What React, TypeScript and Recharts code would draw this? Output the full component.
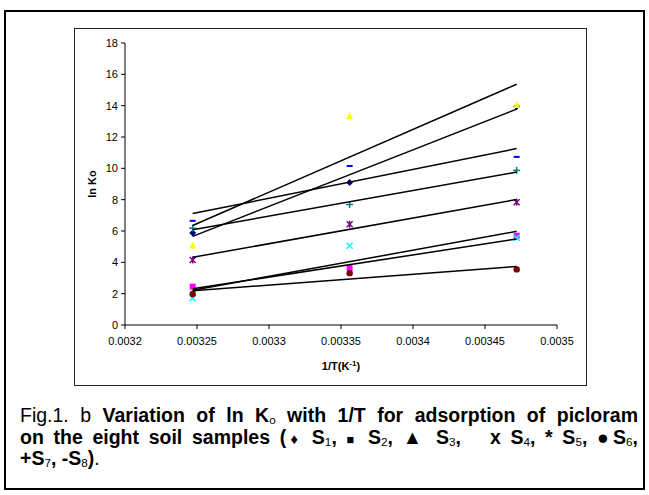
import { Label, Scatter, ScatterChart, XAxis, YAxis } from 'recharts'

// 1/T in K^-1 (308 K, 298 K, 288 K)
const INV_T = [0.003247, 0.003356, 0.003472]
const FIT_X = [0.003247, 0.003472]

// ln Ko, one array per soil sample
const S1 = [5.88, 9.1, 13.95]
const S2 = [2.45, 3.63, 5.7]
const S3 = [5.07, 13.33, 14.04]
const S4 = [1.71, 5.06, 5.56]
const S5 = [4.15, 6.43, 7.84]
const S6 = [1.98, 3.31, 3.55]
const S7 = [6.18, 7.69, 9.87]
const S8 = [6.65, 10.15, 10.73]

// trendline end values (left, right) as drawn in the figure
const S1_FIT = [5.66, 13.78]
const S2_FIT = [2.31, 5.49]
const S3_FIT = [6.35, 15.37]
const S4_FIT = [2.22, 5.98]
const S5_FIT = [4.32, 8.01]
const S6_FIT = [2.18, 3.74]
const S7_FIT = [6.08, 9.76]
const S8_FIT = [7.11, 11.26]

const X_TICKS = [0.0032, 0.00325, 0.0033, 0.00335, 0.0034, 0.00345, 0.0035]
const Y_TICKS = [0, 2, 4, 6, 8, 10, 12, 14, 16, 18]

type Kind = 'diamond' | 'square' | 'triangle' | 'x' | 'star' | 'circle' | 'plus' | 'dash'

const SERIES: { name: string; values: number[]; fit: number[]; color: string; kind: Kind }[] = [
  { name: 'S1', values: S1, fit: S1_FIT, color: '#000080', kind: 'diamond' },
  { name: 'S2', values: S2, fit: S2_FIT, color: '#ff00ff', kind: 'square' },
  { name: 'S3', values: S3, fit: S3_FIT, color: '#ffff00', kind: 'triangle' },
  { name: 'S4', values: S4, fit: S4_FIT, color: '#00ffff', kind: 'x' },
  { name: 'S5', values: S5, fit: S5_FIT, color: '#800080', kind: 'star' },
  { name: 'S6', values: S6, fit: S6_FIT, color: '#800000', kind: 'circle' },
  { name: 'S7', values: S7, fit: S7_FIT, color: '#008080', kind: 'plus' },
  { name: 'S8', values: S8, fit: S8_FIT, color: '#0000ff', kind: 'dash' },
]

const FONT = '"Liberation Sans", Arial, sans-serif'

function Marker({ cx, cy, kind, color }: { cx: number; cy: number; kind: Kind; color: string }) {
  if (cx == null || cy == null) return <g />
  switch (kind) {
    case 'diamond':
      return <polygon points={`${cx},${cy - 3.5} ${cx + 3.5},${cy} ${cx},${cy + 3.5} ${cx - 3.5},${cy}`} fill={color} />
    case 'square':
      return <rect x={cx - 3} y={cy - 3} width={6} height={6} fill={color} />
    case 'triangle':
      return <polygon points={`${cx},${cy - 4} ${cx + 3.5},${cy + 3} ${cx - 3.5},${cy + 3}`} fill={color} />
    case 'x':
      return (
        <g stroke={color} strokeWidth={1.5}>
          <line x1={cx - 3} y1={cy - 3} x2={cx + 3} y2={cy + 3} />
          <line x1={cx - 3} y1={cy + 3} x2={cx + 3} y2={cy - 3} />
        </g>
      )
    case 'star':
      return (
        <g stroke={color} strokeWidth={1.5}>
          <line x1={cx - 3} y1={cy - 3} x2={cx + 3} y2={cy + 3} />
          <line x1={cx - 3} y1={cy + 3} x2={cx + 3} y2={cy - 3} />
          <line x1={cx} y1={cy - 3.5} x2={cx} y2={cy + 3.5} />
        </g>
      )
    case 'circle':
      return <circle cx={cx} cy={cy} r={3.2} fill={color} />
    case 'plus':
      return (
        <g stroke={color} strokeWidth={1.5}>
          <line x1={cx - 3.5} y1={cy} x2={cx + 3.5} y2={cy} />
          <line x1={cx} y1={cy - 3.5} x2={cx} y2={cy + 3.5} />
        </g>
      )
    case 'dash':
      return <rect x={cx - 3} y={cy - 1} width={6} height={2} fill={color} />
  }
}

const sub = { fontSize: '0.6em', fontWeight: 400, position: 'relative', top: '0.2em', lineHeight: 0 } as const

export default function App() {
  return (
    <div style={{ position: 'absolute', left: 0, top: 0, width: 649, height: 495, background: '#fff', fontFamily: FONT }}>
      {/* outer figure frame */}
      <div style={{ position: 'absolute', left: 4, top: 10, width: 641, height: 480, border: '2px solid #000', boxSizing: 'border-box' }} />
      {/* chart area frame */}
      <div style={{ position: 'absolute', left: 74, top: 28, width: 513, height: 358, border: '1.5px solid #222', boxSizing: 'border-box' }} />

      <div style={{ position: 'absolute', left: 0, top: 0 }}>
        <ScatterChart width={649} height={495} margin={{ top: 43, right: 92, bottom: 140, left: 75 }}>
          <XAxis
            type="number"
            dataKey="x"
            domain={[0.0032, 0.0035]}
            ticks={X_TICKS}
            height={30}
            tickSize={4}
            tickMargin={8}
            stroke="#000"
            tick={{ fill: '#000', fontSize: 11, fontFamily: FONT }}
            tickFormatter={(v: number) => String(v)}
          >
            <Label
              content={(p: any) => {
                const vb = p.viewBox || { x: 125, y: 325, width: 432, height: 30 }
                return (
                  <text x={vb.x + vb.width / 2} y={370} textAnchor="middle" fontSize={11} fontWeight="bold" fontFamily={FONT} fill="#000">
                    1/T(K<tspan dy={-4} fontSize={8}>-1</tspan><tspan dy={4}>)</tspan>
                  </text>
                )
              }}
            />
          </XAxis>
          <YAxis
            type="number"
            dataKey="y"
            domain={[0, 18]}
            ticks={Y_TICKS}
            width={50}
            tickSize={4}
            tickMargin={3}
            stroke="#000"
            tick={{ fill: '#000', fontSize: 11, fontFamily: FONT }}
          >
            <Label
              content={(p: any) => {
                const vb = p.viewBox || { x: 75, y: 43, width: 50, height: 282 }
                const cx = vb.x + 17
                const cy = 184
                return (
                  <text x={cx} y={cy} transform={`rotate(-90 ${cx} ${cy})`} textAnchor="middle" dominantBaseline="central" fontSize={11} fontWeight="bold" fontFamily={FONT} fill="#000">
                    ln Ko
                  </text>
                )
              }}
            />
          </YAxis>
          {SERIES.map((s) => (
            <Scatter
              key={s.name}
              name={s.name}
              data={INV_T.map((x, i) => ({ x, y: s.values[i] }))}
              isAnimationActive={false}
              shape={(p: any) => <Marker cx={p.cx} cy={p.cy} kind={s.kind} color={s.color} />}
            />
          ))}
          {SERIES.map((s) => (
            <Scatter
              key={s.name + '-fit'}
              name={s.name + ' fit'}
              data={FIT_X.map((x, i) => ({ x, y: s.fit[i] }))}
              isAnimationActive={false}
              line={{ stroke: '#000', strokeWidth: 1.5 }}
              shape={() => <g />}
            />
          ))}
        </ScatterChart>
      </div>

      {/* caption */}
      <div
        style={{
          position: 'absolute',
          left: 20,
          top: 405,
          width: 618,
          fontSize: 19.5,
          lineHeight: '21.5px',
          fontFamily: FONT,
          color: '#000',
          whiteSpace: 'nowrap',
        }}
      >
        <div style={{ textAlign: 'justify', textAlignLast: 'justify', height: 21.5 }}>
          Fig.1. b <b>Variation of ln K<span style={sub}>o</span> with 1/T for adsorption of picloram</b>
        </div>
        <div style={{ textAlign: 'justify', textAlignLast: 'justify', fontWeight: 'bold', height: 21.5 }}>
          on the eight soil samples (<span style={{ fontSize: '0.75em' }}>♦</span> S<span style={sub}>1</span>, <span style={{ fontSize: '0.65em' }}>■</span> S<span style={sub}>2</span>, ▲ S<span style={sub}>3</span>,&nbsp;&nbsp; x S<span style={sub}>4</span>, * S<span style={sub}>5</span>, ●S<span style={sub}>6</span>,
        </div>
        <div style={{ fontWeight: 'bold', height: 21.5 }}>
          +S<span style={sub}>7</span>, -S<span style={sub}>8</span>)<span style={{ fontWeight: 400 }}>.</span>
        </div>
      </div>
    </div>
  )
}
